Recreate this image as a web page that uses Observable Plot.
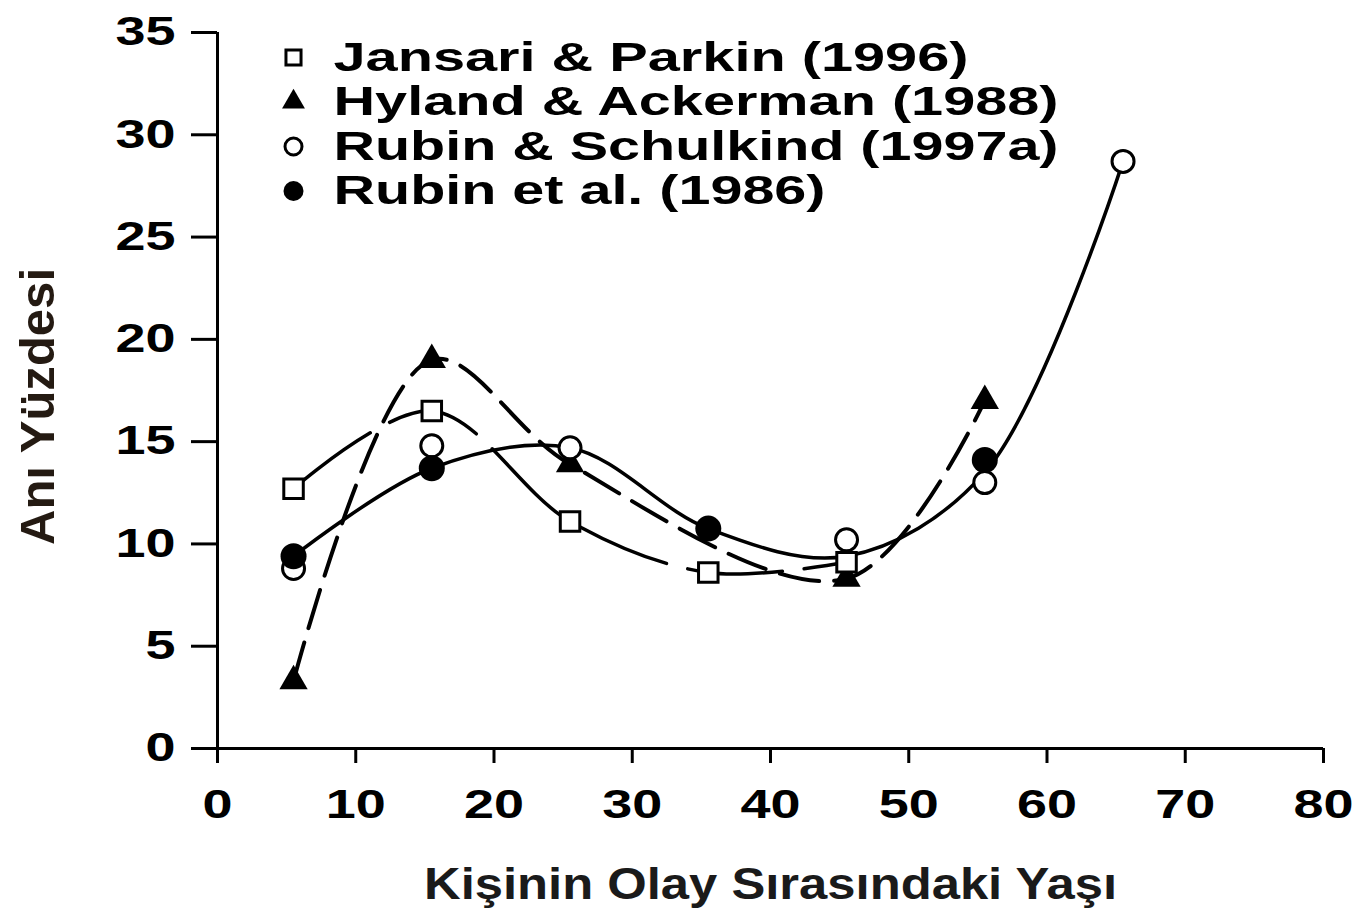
<!DOCTYPE html>
<html><head><meta charset="utf-8">
<script src="https://cdn.jsdelivr.net/npm/d3@7"></script>
<script src="https://cdn.jsdelivr.net/npm/@observablehq/plot@0.6"></script>
<style>body{margin:0;background:#fff;} #chart svg{display:block;}</style>
</head><body><div id="chart"></div>
<script>
// ---- data ----
const seriesNames = ["Jansari & Parkin (1996)", "Hyland & Ackerman (1988)", "Rubin & Schulkind (1997a)", "Rubin et al. (1986)"];
const jansariX = [5.5, 15.5, 25.5, 35.5, 45.5];
const jansariY = [12.7, 16.5, 11.1, 8.6, 9.1];
const hylandX = [5.5, 15.5, 25.5, 45.5, 55.5];
const hylandY = [3.3, 19.0, 13.9, 8.3, 17.0];
const schulkindX = [5.5, 15.5, 25.5, 45.5, 55.5, 65.5];
const schulkindY = [8.8, 14.8, 14.7, 10.2, 13.0, 28.7];
const rubinX = [5.5, 15.5, 35.5, 55.5];
const rubinY = [9.4, 13.7, 10.75, 14.1];
// solid fitted curve through the Rubin data
const curveX = [5.5, 15.5, 25.5, 35.5, 45.5, 55.5, 65.5];
const curveY = [9.4, 13.7, 14.7, 10.75, 9.4, 13.5, 28.7];
const xTicks = [0, 10, 20, 30, 40, 50, 60, 70, 80];
const yTicks = [0, 5, 10, 15, 20, 25, 30, 35];
const xTitle = "Kişinin Olay Sırasındaki Yaşı";
const yTitle = "Anı Yüzdesi";

const zip = (xs, ys) => xs.map((x, i) => ({x, y: ys[i]}));
const jansari = zip(jansariX, jansariY);
const hyland = zip(hylandX, hylandY);
const schulkind = zip(schulkindX, schulkindY);
const rubin = zip(rubinX, rubinY);
const curve = zip(curveX, curveY);

const legendSymbols = [
  {symbol: "square", fill: "white", stroke: "black", r: 8.5},
  {symbol: "triangle", fill: "black", stroke: "none", r: 8.5},
  {symbol: "circle", fill: "white", stroke: "black", r: 8.5},
  {symbol: "circle", fill: "black", stroke: "none", r: 10}
];

const legendMarks = [];
seriesNames.forEach((name, i) => {
  const s = legendSymbols[i];
  legendMarks.push(Plot.dot([name], {frameAnchor: "top-left", dx: 76, dy: 25 + i * 44.5,
    symbol: s.symbol, fill: s.fill, stroke: s.stroke, strokeWidth: 3, r: s.r}));
  legendMarks.push(Plot.text([name], {frameAnchor: "top-left", dx: 116, dy: 25 + i * 44.5,
    text: d => d, textAnchor: "start", lineAnchor: "middle", fontSize: 41, fontWeight: "bold", fill: "black"}));
});

const chart = Plot.plot({
  width: 1360,
  height: 914,
  marginLeft: 217,
  marginRight: 37,
  marginTop: 32,
  marginBottom: 166,
  style: {fontFamily: "'Liberation Sans', Arial, sans-serif", fontSize: "40px", fontWeight: "bold", color: "black", background: "white"},
  x: {domain: [0, 80]},
  y: {domain: [0, 35]},
  marks: [
    Plot.ruleY([0], {x1: 0, x2: 80, strokeWidth: 3}),
    Plot.ruleX([0], {y1: 0, y2: 35, strokeWidth: 3}),
    Plot.axisX({ticks: xTicks, tickSize: 15, tickPadding: 26, strokeWidth: 3, label: null, tickFormat: d => String(d)}),
    Plot.axisY({ticks: yTicks, tickSize: 26, tickPadding: 16, strokeWidth: 3, label: null, tickFormat: d => String(d)}),
    Plot.line(jansari, {x: "x", y: "y", curve: "catmull-rom", stroke: "black", strokeWidth: 3.5, strokeDasharray: "95,22"}),
    Plot.line(hyland, {x: "x", y: "y", curve: "catmull-rom", stroke: "black", strokeWidth: 4, strokeDasharray: "40,15"}),
    Plot.line(curve, {x: "x", y: "y", curve: "catmull-rom", stroke: "black", strokeWidth: 3.5}),
    Plot.dot(hyland, {x: "x", y: "y", symbol: "triangle", fill: "black", r: 10.5}),
    Plot.dot(jansari, {x: "x", y: "y", symbol: "square", fill: "white", stroke: "black", strokeWidth: 3, r: 11}),
    Plot.dot(schulkind, {x: "x", y: "y", symbol: "circle", fill: "white", stroke: "black", strokeWidth: 3, r: 11}),
    Plot.dot(rubin, {x: "x", y: "y", symbol: "circle", fill: "black", r: 13}),
    ...legendMarks,
    Plot.text([xTitle], {frameAnchor: "bottom", dy: 136, text: d => d, textAnchor: "middle", lineAnchor: "middle", fontSize: 44, fontWeight: "bold", fill: "#1a1a1a"}),
    Plot.text([yTitle], {frameAnchor: "left", dx: -179, dy: 16, rotate: -90, text: d => d, textAnchor: "middle", lineAnchor: "middle", fontSize: 48, fontWeight: "bold", fill: "#241a12"})
  ]
});
document.getElementById("chart").appendChild(chart);

// stretch the wide typeface of the original
const svg = d3.select(chart);
svg.selectAll('g[aria-label="x-axis tick label"] text, g[aria-label="y-axis tick label"] text')
  .each(function() { const n = this.textContent.length; d3.select(this).attr("textLength", 30 * n).attr("lengthAdjust", "spacingAndGlyphs"); });
const legendWidths = {"Jansari & Parkin (1996)": 635, "Hyland & Ackerman (1988)": 725, "Rubin & Schulkind (1997a)": 725, "Rubin et al. (1986)": 492, [xTitle]: 693, [yTitle]: 277};
svg.selectAll("text").each(function() {
  const w = legendWidths[this.textContent];
  if (w) d3.select(this).attr("textLength", w).attr("lengthAdjust", "spacingAndGlyphs");
});
</script>
</body></html>
